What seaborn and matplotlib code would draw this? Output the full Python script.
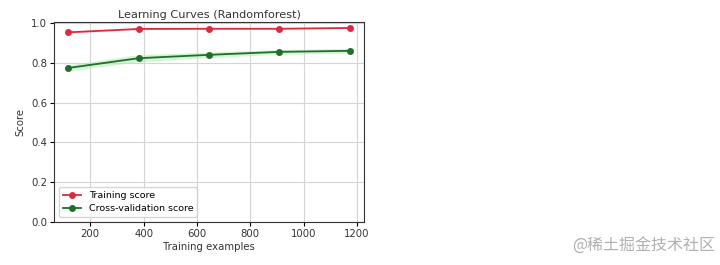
import matplotlib
matplotlib.use("Agg")
import matplotlib.pyplot as plt
import seaborn as sns
import numpy as np
import pandas as pd
from matplotlib.lines import Line2D

train_sizes = [117, 381, 645, 909, 1173]
train_mean = [0.953, 0.970, 0.971, 0.971, 0.975]
train_std = [0.006, 0.004, 0.003, 0.003, 0.003]
cv_mean = [0.774, 0.823, 0.840, 0.855, 0.860]
cv_std = [0.016, 0.018, 0.014, 0.012, 0.012]

RED = "#dc2a3e"
GREEN = "#1f6e2a"

plt.rcParams['font.family'] = ['DejaVu Sans']
fig = plt.figure(figsize=(7.2, 2.65), dpi=100)
ax = fig.add_axes([0.075, 0.1623, 0.4306, 0.7547])

tm = np.array(train_mean); ts = np.array(train_std)
cm = np.array(cv_mean); cs = np.array(cv_std)
ax.fill_between(train_sizes, tm - ts, tm + ts, alpha=0.15, color="#ff6070", linewidth=0)
ax.fill_between(train_sizes, cm - cs, cm + cs, alpha=0.3, color="#70e070", linewidth=0)

df = pd.DataFrame({
    "x": train_sizes * 2,
    "y": train_mean + cv_mean,
    "s": ["Training score"] * 5 + ["Cross-validation score"] * 5,
})
sns.lineplot(data=df, x="x", y="y", hue="s", palette={"Training score": RED, "Cross-validation score": GREEN},
             marker="o", markersize=5, markeredgewidth=0, linewidth=1.3, ax=ax, legend=False)
handles = [Line2D([], [], color=RED, marker="o", markersize=5, markeredgewidth=0, lw=1.3),
           Line2D([], [], color=GREEN, marker="o", markersize=5, markeredgewidth=0, lw=1.3)]
ax.legend(handles, ["Training score", "Cross-validation score"], loc="lower left", fontsize=6.8,
          handlelength=2.0, borderpad=0.4, labelspacing=0.45)

ax.set_ylim(0, 1.005)
ax.set_xlim(64, 1226)
ax.grid(True, color="#d4d4d4", linewidth=0.8)
ax.set_title("Learning Curves (Randomforest)", fontsize=8.1, pad=3, color="#333333")
ax.set_xlabel("Training examples", fontsize=7.3, labelpad=2, color="#333333")
ax.set_ylabel("Score", fontsize=7.3, labelpad=4, color="#333333")
ax.tick_params(labelsize=7.3, length=3, pad=2, labelcolor="#333333")
for sp in ax.spines.values():
    sp.set_color("#333333")

fig.text(0.993, 0.04, "@稀土掘金技术社区", ha="right", va="bottom", fontsize=11.5, color="#b0b0b0",
         family=["Noto Sans CJK SC", "DejaVu Sans"])

fig.savefig("out.png", dpi=100)
